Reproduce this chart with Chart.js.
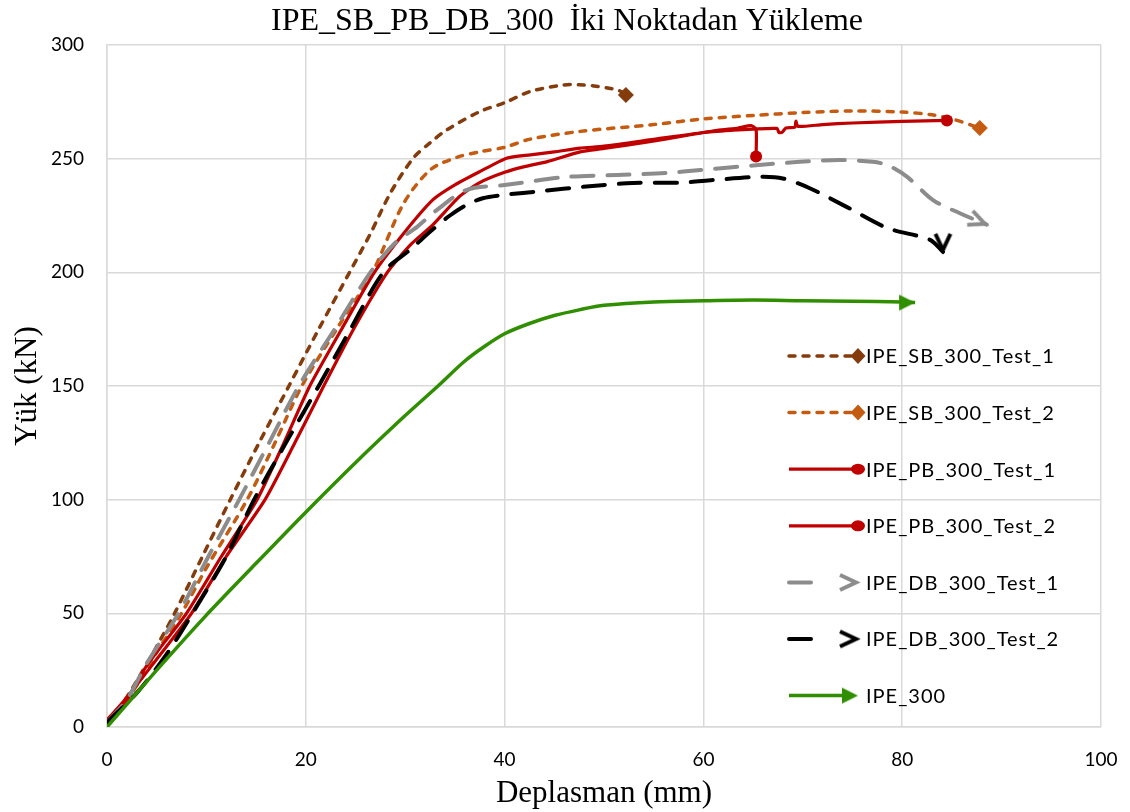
<!DOCTYPE html>
<html><head><meta charset="utf-8">
<script src="https://cdn.jsdelivr.net/npm/chart.js@4.4.0/dist/chart.umd.min.js"></script>
<style>html,body{margin:0;padding:0;background:#fff}</style>
</head><body>
<canvas id="c" width="1130" height="812" style="display:block;width:1130px;height:812px"></canvas>
<script>
// ---------- data ----------
const chartTitle = 'IPE_SB_PB_DB_300  İki Noktadan Yükleme';
const xAxisTitle = 'Deplasman (mm)';
const yAxisTitle = 'Yük (kN)';
const xTicks = [0, 20, 40, 60, 80, 100];
const yTicks = [0, 50, 100, 150, 200, 250, 300];
const seriesNames = ['IPE_SB_300_Test_1', 'IPE_SB_300_Test_2', 'IPE_PB_300_Test_1', 'IPE_PB_300_Test_2', 'IPE_DB_300_Test_1', 'IPE_DB_300_Test_2', 'IPE_300'];

const sb1X = [0, 1.5, 3.5, 5.2, 6.8, 9.6, 12.4, 15.3, 18.3, 21.3, 24.4, 26.5, 28.5, 30.8, 32.5, 34.2, 37.5, 40, 42.6, 45.9, 47.5, 49, 50.5, 51.5, 52.2];
const sb1Y = [3, 10, 24, 37, 50, 75, 100, 125, 150, 175, 200, 217, 234.8, 250.2, 257, 262.7, 270.7, 274.6, 279.6, 282.4, 282.5, 282, 281, 280, 278];

const sb2X = [0, 2.5, 5, 7.5, 10, 14.1, 16.9, 19.6, 23.1, 26.7, 29.8, 32.5, 35.2, 37.5, 40, 42.6, 47.6, 55, 60, 65, 70, 75, 80, 83, 85, 87.8];
const sb2Y = [2, 15, 33, 50, 70, 100, 125, 150, 175, 200, 230, 245, 250.6, 253, 255, 258.6, 262, 265, 267.5, 269, 270.3, 271, 270.5, 269.3, 267.5, 263.5];

const pb1X = [0, 2, 4, 8, 11.5, 15.1, 17.8, 20.4, 23.6, 26.9, 30, 32.8, 35, 37.5, 40.2, 42.6, 45, 47.6, 50, 55, 60, 63, 65, 67.4, 67.6, 67.9, 68.3, 69.2, 69.3, 69.5, 72, 75, 80, 84.5];
const pb1Y = [2, 12, 27, 50, 75, 100, 125, 150, 175, 200, 218, 232, 238.5, 244.3, 250.2, 251.7, 253, 254.6, 255.5, 258.5, 261.5, 262.5, 263, 263.3, 261.5, 261.5, 263.5, 263.8, 266.5, 264.2, 265, 265.7, 266.4, 266.8];

const pb2X = [0, 2, 4.5, 8.5, 12, 15.9, 18.9, 21.8, 24.8, 28.2, 30.5, 32.8, 35.5, 37.5, 40, 42, 44.3, 47.6, 50, 54.6, 58, 61.4, 63.5, 64.8, 65.3, 65.3];
const pb2Y = [3, 13, 27, 50, 75, 100, 125, 150, 175, 200, 212, 221, 233.5, 239.5, 244, 246.5, 248.7, 253, 254.5, 257.5, 260, 262.5, 263.5, 264.5, 263, 251];

const db1X = [0, 2, 4, 7.2, 10.2, 13.3, 16.3, 19.3, 22.9, 26.5, 29, 31.2, 33.2, 36.2, 40, 46.3, 51.3, 56.3, 59.7, 65, 69.7, 73.7, 77, 78.5, 80.5, 83.1, 85.8, 88.5];
const db1Y = [2, 12, 28, 50, 75, 100, 125, 150, 175, 200, 213, 220, 227.5, 236.3, 238.4, 242, 242.8, 243.7, 245, 247, 248.6, 249.4, 248.6, 247.2, 242, 231.8, 226, 221];

const db2X = [0, 3, 6, 8.6, 12, 14.8, 18, 21.3, 24.5, 27.8, 30.5, 32.7, 34.5, 36.2, 37.8, 39.8, 43.9, 47.9, 52.9, 57.9, 61, 65.7, 68, 70.7, 74.4, 78.5, 82.8, 84.1];
const db2Y = [2, 15, 32, 50, 75, 100, 125, 150, 175, 200, 210, 218.6, 225, 229.7, 232.6, 234, 235.8, 237.6, 239.3, 239.5, 240.6, 242, 241.3, 237, 228.8, 219.5, 214.3, 209];

const ipeX = [0, 5, 9.7, 15, 20, 25.1, 30, 33.3, 36, 38, 40, 42.5, 45, 47.5, 50, 55, 60, 65, 70, 75, 80, 81.3];
const ipeY = [0, 25, 47.8, 72, 94.5, 116.7, 137, 150, 161, 167.5, 173, 177.5, 181, 183.5, 185.5, 187, 187.5, 187.8, 187.5, 187.3, 187, 186.7];

// ---------- helpers ----------
function pts(xs, ys) { return xs.map((x, i) => ({x: x, y: ys[i]})); }

function makeArrow(color, filled, L, H, lw) {
  const pad = 4;
  const c = document.createElement('canvas');
  c.width = 2 * L + 2 * pad; c.height = 2 * H + 2 * pad;
  const g = c.getContext('2d');
  const cx = c.width / 2, cy = c.height / 2;
  if (filled) {
    g.fillStyle = color;
    g.beginPath(); g.moveTo(cx, cy); g.lineTo(cx - L, cy - H); g.lineTo(cx - L, cy + H); g.closePath(); g.fill();
  } else {
    g.strokeStyle = color; g.lineWidth = lw; g.lineJoin = 'miter'; g.lineCap = 'butt';
    g.beginPath(); g.moveTo(cx - L + 1, cy - H); g.lineTo(cx - 2, cy); g.lineTo(cx - L + 1, cy + H); g.stroke();
  }
  return c;
}

const C_SB1 = '#843C0C', C_SB2 = '#C55A11', C_PB = '#C00000', C_DB1 = '#8C8C8C', C_DB2 = '#000000', C_IPE = '#2F8F00';
const arrowGreen = makeArrow(C_IPE, true, 16, 8, 0);
const arrowGrey = makeArrow(C_DB1, false, 19, 7.5, 4);
const arrowBlack = makeArrow(C_DB2, false, 19, 7.5, 4);

function lastOnly(val, other) {
  return ctx => (ctx.dataIndex === ctx.dataset.data.length - 1 ? val : other);
}

const SB_DASH = [6, 8], DB_DASH = [22, 14];

const specs = [
  {x: sb1X, y: sb1Y, color: C_SB1, w: 3.5, dash: SB_DASH, marker: 'rectRot', r: 8, rot: 0},
  {x: sb2X, y: sb2Y, color: C_SB2, w: 3.5, dash: SB_DASH, marker: 'rectRot', r: 8, rot: 0},
  {x: pb1X, y: pb1Y, color: C_PB, w: 3.2, dash: [], marker: 'circle', r: 6, rot: 0, tension: 0.2},
  {x: pb2X, y: pb2Y, color: C_PB, w: 3.2, dash: [], marker: 'circle', r: 6, rot: 0, tension: 0.2},
  {x: db1X, y: db1Y, color: C_DB1, w: 4, dash: DB_DASH, marker: arrowGrey, r: 8, rot: 22},
  {x: db2X, y: db2Y, color: C_DB2, w: 4, dash: DB_DASH, marker: arrowBlack, r: 8, rot: 90},
  {x: ipeX, y: ipeY, color: C_IPE, w: 3.5, dash: [], marker: arrowGreen, r: 8, rot: 0}
];

const datasets = specs.map((s, i) => ({
  label: seriesNames[i],
  data: pts(s.x, s.y),
  showLine: true,
  borderColor: s.color,
  backgroundColor: s.color,
  borderWidth: s.w,
  borderDash: s.dash,
  borderCapStyle: s.dash.length ? 'round' : 'butt',
  borderJoinStyle: 'round',
  tension: s.tension !== undefined ? s.tension : 0.3,
  pointStyle: s.marker,
  pointRadius: lastOnly(s.r, 0),
  pointHoverRadius: lastOnly(s.r, 0),
  pointRotation: s.rot,
  pointBorderWidth: 0,
  pointBackgroundColor: s.color,
  pointBorderColor: s.color,
  order: 6 - i
}));

const titlePlugin = {
  id: 'titleText',
  afterDraw(chart) {
    const g = chart.ctx;
    g.save();
    g.fillStyle = '#000';
    g.font = '32px "Liberation Serif"';
    g.textAlign = 'center';
    g.textBaseline = 'middle';
    g.fillText(chartTitle, 567, 22);
    g.restore();
  }
};

const legendPlugin = {
  id: 'customLegend',
  afterDatasetsDraw(chart) {
    const g = chart.ctx;
    g.save();
    const x0 = 789, xm = 858, xt = 866;
    specs.forEach((s, i) => {
      const y = 356 + i * 56.6;
      g.strokeStyle = s.color;
      g.lineWidth = s.w;
      g.setLineDash(s.dash);
      g.lineCap = s.dash.length ? 'round' : 'butt';
      g.beginPath();
      if (s.marker === arrowGrey || s.marker === arrowBlack) {
        g.moveTo(x0, y); g.lineTo(x0 + 30, y);
      } else if (s.marker === arrowGreen) {
        g.moveTo(x0, y); g.lineTo(xm - 8, y);
      } else {
        g.moveTo(x0, y); g.lineTo(xm, y);
      }
      g.stroke();
      g.setLineDash([]);
      g.fillStyle = s.color;
      if (s.marker === 'rectRot') {
        g.beginPath(); g.moveTo(xm, y - 8); g.lineTo(xm + 7.5, y); g.lineTo(xm, y + 8); g.lineTo(xm - 7.5, y); g.closePath(); g.fill();
      } else if (s.marker === 'circle') {
        g.beginPath(); g.ellipse(xm, y, 7, 5.5, 0, 0, Math.PI * 2); g.fill();
      } else {
        const im = s.marker;
        g.drawImage(im, xm - im.width / 2, y - im.height / 2);
      }
      g.fillStyle = '#000';
      g.font = '20px Lato';
      g.letterSpacing = '1px';
      g.textAlign = 'left';
      g.textBaseline = 'middle';
      g.fillText(seriesNames[i], xt, y + 1);
    });
    g.restore();
  }
};

const gridColor = '#D9D9D9';
new Chart(document.getElementById('c'), {
  type: 'scatter',
  data: {datasets: datasets},
  options: {
    responsive: false,
    devicePixelRatio: 1,
    animation: false,
    events: [],
    layout: {padding: {top: 45, right: 29, left: 0, bottom: 0}},
    plugins: {legend: {display: false}, title: {display: false}, tooltip: {enabled: false}},
    scales: {
      x: {
        type: 'linear', min: 0, max: 100,
        afterBuildTicks: sc => { sc.ticks = xTicks.map(v => ({value: v})); },
        afterFit: sc => { sc.height = 85; sc.paddingRight = 17; sc.paddingLeft = 5; },
        ticks: {font: {family: 'Lato', size: 19}, color: '#000', padding: 21, autoSkip: false, maxRotation: 0},
        grid: {color: gridColor, lineWidth: 1.5, drawTicks: false},
        border: {color: gridColor, width: 1.5},
        title: {display: true, text: xAxisTitle, font: {family: 'Liberation Serif', size: 31}, color: '#000', padding: {top: 0, bottom: 0}}
      },
      y: {
        type: 'linear', min: 0, max: 300,
        afterBuildTicks: sc => { sc.ticks = yTicks.map(v => ({value: v})); },
        afterFit: sc => { sc.width = 107; },
        ticks: {font: {family: 'Lato', size: 19}, color: '#000', padding: 23, autoSkip: false},
        grid: {color: gridColor, lineWidth: 1.5, drawTicks: false},
        border: {color: gridColor, width: 1.5},
        title: {display: true, text: yAxisTitle, font: {family: 'Liberation Serif', size: 31}, color: '#000', padding: {top: 9, bottom: 0}}
      }
    }
  },
  plugins: [titlePlugin, legendPlugin]
});
</script>
</body></html>
